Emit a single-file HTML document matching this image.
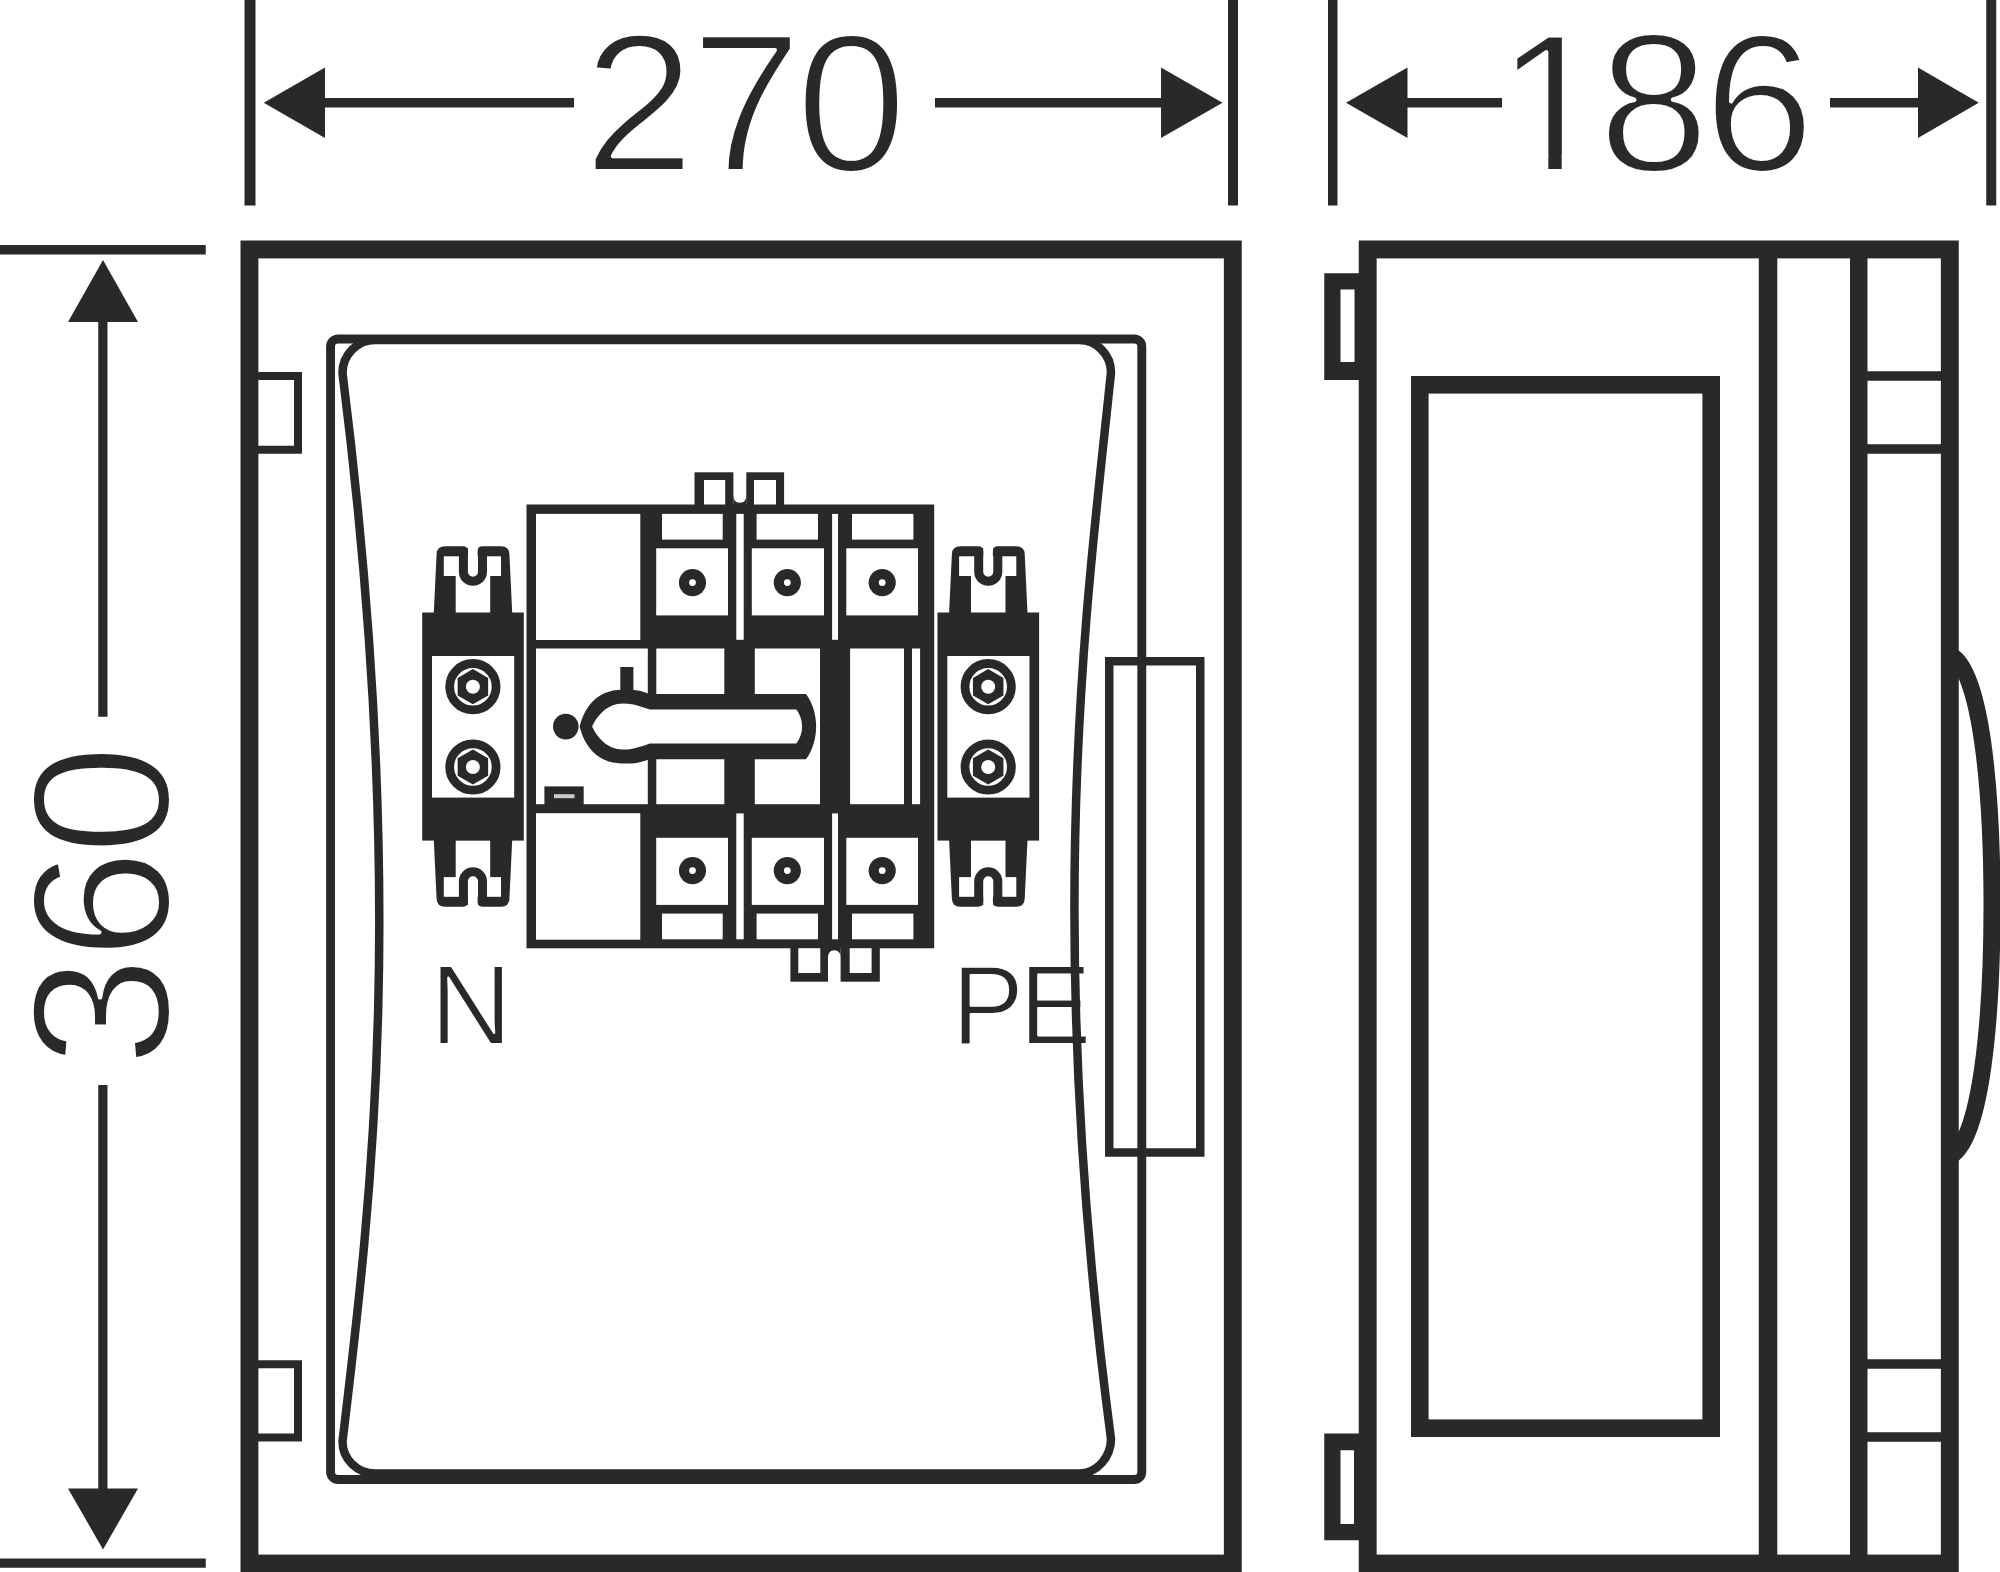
<!DOCTYPE html>
<html lang="en"><head><meta charset="utf-8"><title>Dimension drawing</title>
<style>
html,body{margin:0;padding:0;background:#fff;}
body{width:2000px;height:1572px;overflow:hidden;font-family:"Liberation Sans",Arial,sans-serif;}
svg{display:block}
</style></head><body>
<svg width="2000" height="1572" viewBox="0 0 2000 1572">
<rect x="0" y="0" width="2000" height="1572" fill="#fff"/>
<g id="dims">
<rect x="244.50" y="-2.00" width="11.00" height="207.50" fill="#2a2829" />
<rect x="1228.00" y="-2.00" width="10.00" height="207.50" fill="#2a2829" />
<rect x="1328.00" y="-2.00" width="9.50" height="207.50" fill="#2a2829" />
<rect x="1986.25" y="-2.00" width="10.00" height="207.50" fill="#2a2829" />
<rect x="324.00" y="98.00" width="250.00" height="9.50" fill="#2a2829" />
<rect x="935.00" y="98.00" width="227.00" height="9.50" fill="#2a2829" />
<polygon points="263.75,102.75 325.00,67.50 325.00,138.00" fill="#2a2829"/>
<polygon points="1222.50,102.75 1161.00,67.50 1161.00,138.00" fill="#2a2829"/>
<rect x="1406.00" y="98.00" width="96.00" height="9.50" fill="#2a2829" />
<rect x="1830.00" y="98.00" width="89.00" height="9.50" fill="#2a2829" />
<polygon points="1346.00,102.75 1407.50,67.50 1407.50,138.00" fill="#2a2829"/>
<polygon points="1978.75,102.75 1918.00,67.50 1918.00,138.00" fill="#2a2829"/>
<rect x="-2.00" y="245.00" width="207.75" height="9.50" fill="#2a2829" />
<rect x="-2.00" y="1558.50" width="207.75" height="9.25" fill="#2a2829" />
<rect x="98.25" y="321.00" width="9.25" height="395.75" fill="#2a2829" />
<rect x="98.25" y="1085.00" width="9.25" height="404.50" fill="#2a2829" />
<polygon points="103.00,260.00 68.00,322.00 138.00,322.00" fill="#2a2829"/>
<polygon points="103.00,1549.50 68.00,1488.50 138.00,1488.50" fill="#2a2829"/>
</g>
<g id="labels" font-family="'Liberation Sans', sans-serif" fill="#2a2829" stroke="#fff" stroke-linejoin="round">
<text transform="scale(1.02,1)" x="572.16 677.21 780.15" y="171" font-size="196" stroke-width="4">270</text>
<text transform="scale(1.02,1)" x="1466.67 1566.91 1670.20" y="171" font-size="196" stroke-width="4">186</text>
<text transform="translate(169,0) rotate(-90) scale(1.02,1)" x="-1046.32 -941.18 -838.48" y="0" font-size="196" stroke-width="4">360</text>
<text x="430" y="1044" font-size="114" stroke-width="2.2">N</text>
<text transform="scale(0.95,1)" x="1001.89 1072.95" y="1044" font-size="114" stroke-width="2.2">PE</text>
</g>
<rect x="1504.00" y="155.00" width="44.30" height="21.00" fill="#fff" />
<rect x="1561.70" y="155.00" width="39.30" height="21.00" fill="#fff" />
<g id="front">
<rect x="249.45" y="249.45" width="983.35" height="1314.10" rx="0" fill="none" stroke="#2a2829" stroke-width="17.9" />
<rect x="253.00" y="376.00" width="45.00" height="73.75" rx="0" fill="none" stroke="#2a2829" stroke-width="8" />
<rect x="253.00" y="1364.25" width="45.00" height="73.25" rx="0" fill="none" stroke="#2a2829" stroke-width="8" />
<rect x="330.55" y="339.05" width="811.25" height="1140.50" rx="7.5" fill="none" stroke="#2a2829" stroke-width="8.9" />
<path d="M375,340 C357,340 342.5,355 342.5,373 C408.7,899.6 371,1203.5 342.5,1441.5 C342.5,1459 357,1473.5 375,1473.5 L1079,1473.5 C1097,1473.5 1111,1457 1111,1439 C1042,915.3 1087.45,600 1111,372.5 C1111,355 1097,340 1079,340 Z" fill="none" stroke="#2a2829" stroke-width="8.5" />
<rect x="1109.25" y="661.25" width="91.00" height="491.25" rx="0" fill="none" stroke="#2a2829" stroke-width="8.5" />
</g>
<g id="side">
<rect x="1367.70" y="249.45" width="582.10" height="1314.10" rx="0" fill="none" stroke="#2a2829" stroke-width="17.9" />
<rect x="1758.75" y="249.00" width="18.55" height="1315.00" fill="#2a2829" />
<rect x="1850.00" y="249.00" width="17.50" height="1315.00" fill="#2a2829" />
<rect x="1866.00" y="371.25" width="77.00" height="9.50" fill="#2a2829" />
<rect x="1866.00" y="444.25" width="77.00" height="9.50" fill="#2a2829" />
<rect x="1866.00" y="1359.25" width="77.00" height="9.50" fill="#2a2829" />
<rect x="1866.00" y="1432.25" width="77.00" height="9.50" fill="#2a2829" />
<rect x="1419.80" y="384.80" width="291.40" height="1043.40" rx="0" fill="none" stroke="#2a2829" stroke-width="17.6" />
<rect x="1324.25" y="273.25" width="35.75" height="106.75" fill="#2a2829" />
<rect x="1340.50" y="289.50" width="14.00" height="72.50" fill="#fff" />
<rect x="1324.25" y="1433.50" width="35.75" height="106.75" fill="#2a2829" />
<rect x="1340.50" y="1450.25" width="13.50" height="73.75" fill="#fff" />
<path d="M1950,655 C1981,668 1992,790 1992,905 C1992,1020 1981,1142 1950,1156" fill="none" stroke="#2a2829" stroke-width="17" />
</g>
<g id="switch">
<rect x="526.50" y="504.50" width="407.70" height="443.80" fill="#2a2829" />
<rect x="694.50" y="472.30" width="38.90" height="33.70" fill="#2a2829" />
<rect x="704.00" y="480.00" width="21.20" height="24.50" fill="#fff" />
<rect x="746.30" y="472.30" width="37.80" height="33.70" fill="#2a2829" />
<rect x="754.00" y="480.00" width="22.00" height="24.50" fill="#fff" />
<path d="M733.4,495 Q733.4,502.8 739.85,502.8 Q746.3,502.8 746.3,495 L746.3,506 L733.4,506 Z" fill="#2a2829" />
<rect x="790.40" y="946.00" width="37.60" height="35.70" fill="#2a2829" />
<rect x="798.30" y="948.20" width="22.00" height="24.80" fill="#fff" />
<rect x="840.60" y="946.00" width="39.20" height="35.70" fill="#2a2829" />
<rect x="849.70" y="948.20" width="21.90" height="24.80" fill="#fff" />
<path d="M828,958 Q828,950.3 834.3,950.3 Q840.6,950.3 840.6,958 L840.6,946 L828,946 Z" fill="#2a2829" />
<rect x="536.00" y="513.90" width="104.30" height="126.10" fill="#fff" />
<rect x="536.00" y="648.50" width="111.80" height="155.70" fill="#fff" />
<rect x="536.00" y="813.20" width="104.30" height="126.50" fill="#fff" />
<rect x="656.30" y="648.50" width="68.00" height="155.70" fill="#fff" />
<rect x="754.80" y="648.50" width="65.20" height="155.70" fill="#fff" />
<rect x="850.10" y="648.50" width="53.90" height="155.70" fill="#fff" />
<rect x="912.00" y="648.50" width="8.10" height="155.70" fill="#fff" />
<rect x="662.00" y="513.90" width="60.70" height="25.70" fill="#fff" />
<rect x="662.00" y="913.60" width="60.70" height="25.70" fill="#fff" />
<rect x="756.60" y="513.90" width="61.40" height="25.70" fill="#fff" />
<rect x="756.60" y="913.60" width="61.40" height="25.70" fill="#fff" />
<rect x="852.00" y="513.90" width="61.40" height="25.70" fill="#fff" />
<rect x="852.00" y="913.60" width="61.40" height="25.70" fill="#fff" />
<rect x="656.20" y="548.30" width="71.80" height="67.10" fill="#fff" />
<rect x="656.20" y="837.80" width="71.80" height="67.10" fill="#fff" />
<rect x="751.80" y="548.30" width="72.20" height="67.10" fill="#fff" />
<rect x="751.80" y="837.80" width="72.20" height="67.10" fill="#fff" />
<rect x="846.30" y="548.30" width="71.70" height="67.10" fill="#fff" />
<rect x="846.30" y="837.80" width="71.70" height="67.10" fill="#fff" />
<rect x="736.30" y="513.90" width="7.40" height="125.90" fill="#fff" />
<rect x="736.30" y="813.40" width="7.40" height="125.90" fill="#fff" />
<rect x="832.10" y="513.90" width="5.90" height="125.90" fill="#fff" />
<rect x="832.10" y="813.40" width="5.90" height="125.90" fill="#fff" />
<circle cx="692.5" cy="582.60" r="13.6" fill="#2a2829"/><circle cx="692.5" cy="582.60" r="3.4" fill="#fff"/>
<circle cx="692.5" cy="870.60" r="13.6" fill="#2a2829"/><circle cx="692.5" cy="870.60" r="3.4" fill="#fff"/>
<circle cx="787.3" cy="582.60" r="13.6" fill="#2a2829"/><circle cx="787.3" cy="582.60" r="3.4" fill="#fff"/>
<circle cx="787.3" cy="870.60" r="13.6" fill="#2a2829"/><circle cx="787.3" cy="870.60" r="3.4" fill="#fff"/>
<circle cx="882.2" cy="582.60" r="13.6" fill="#2a2829"/><circle cx="882.2" cy="582.60" r="3.4" fill="#fff"/>
<circle cx="882.2" cy="870.60" r="13.6" fill="#2a2829"/><circle cx="882.2" cy="870.60" r="3.4" fill="#fff"/>
<rect x="544.40" y="786.40" width="39.30" height="18.60" fill="#2a2829" />
<rect x="554.00" y="794.20" width="20.50" height="4.00" fill="#c9c9c9" />
<circle cx="565.8" cy="726.6" r="12.8" fill="#2a2829"/>
<rect x="620.30" y="667.00" width="13.10" height="28.00" fill="#2a2829" />
<path d="M579.7,726.6 C583.8,709.1 596,689.8 622,689.8 L632,689.8 C638,689.8 643,692 650,694 L806,694 C819.5,712 819.5,741 806,759.2 L650,759.2 C643,761.2 638,763.4000000000001 632,763.4000000000001 L622,763.4000000000001 C596,763.4000000000001 583.8,744.1 579.7,726.6 Z" fill="#2a2829" />
<path d="M592.1,726.6 C597.3,715.8 607,703.6 623,703.6 L628,703.8 C636,704.5 642,707 650,709.6 L796.4,709.6 C804,720 804,733 796.4,743.6 L650,743.6 C642,746.2 636,748.7 628,749.4000000000001 L623,749.6 C607,749.6 597.3,737.4000000000001 592.1,726.6 Z" fill="#fff" />
</g>
<g transform="translate(0,0)">
<path d="M433.8,613 L436.6,554 Q437,546.3 445,546.3 L463,546.3 Q467.9,546.3 467.9,551.5 L467.9,571.5 A4.85,4.85 0 0 0 477.6,571.5 L477.6,551.5 Q477.6,546.3 482.5,546.3 L501,546.3 Q509,546.3 509.4,554 L512.2,613 Z" fill="#2a2829" />
<rect x="443.80" y="556.30" width="57.20" height="19.70" fill="#fff" />
<rect x="455.70" y="575.00" width="34.50" height="38.00" fill="#fff" />
<path d="M463.4,548 L463.4,571.75 A9.55,9.55 0 0 0 482.5,571.75 L482.5,548" fill="none" stroke="#2a2829" stroke-width="9" />
<g transform="translate(0,1453.10) scale(1,-1)">
<path d="M433.8,613 L436.6,554 Q437,546.3 445,546.3 L463,546.3 Q467.9,546.3 467.9,551.5 L467.9,571.5 A4.85,4.85 0 0 0 477.6,571.5 L477.6,551.5 Q477.6,546.3 482.5,546.3 L501,546.3 Q509,546.3 509.4,554 L512.2,613 Z" fill="#2a2829" />
<rect x="443.80" y="556.30" width="57.20" height="19.70" fill="#fff" />
<rect x="455.70" y="575.00" width="34.50" height="38.00" fill="#fff" />
<path d="M463.4,548 L463.4,571.75 A9.55,9.55 0 0 0 482.5,571.75 L482.5,548" fill="none" stroke="#2a2829" stroke-width="9" />
</g>
<rect x="422.20" y="612.50" width="101.60" height="228.10" fill="#2a2829" />
<rect x="432.00" y="656.00" width="82.20" height="141.60" fill="#fff" />
<circle cx="472.9" cy="686.7" r="23.2" fill="none" stroke="#2a2829" stroke-width="8.8"/>
<polygon points="472.90,669.10 488.14,677.90 488.14,695.50 472.90,704.30 457.66,695.50 457.66,677.90" fill="#2a2829"/>
<circle cx="472.9" cy="686.7" r="7" fill="#fff"/>
<circle cx="472.9" cy="767" r="23.2" fill="none" stroke="#2a2829" stroke-width="8.8"/>
<polygon points="472.90,749.40 488.14,758.20 488.14,775.80 472.90,784.60 457.66,775.80 457.66,758.20" fill="#2a2829"/>
<circle cx="472.9" cy="767" r="7" fill="#fff"/>
</g>
<g transform="translate(515.3,0)">
<path d="M433.8,613 L436.6,554 Q437,546.3 445,546.3 L463,546.3 Q467.9,546.3 467.9,551.5 L467.9,571.5 A4.85,4.85 0 0 0 477.6,571.5 L477.6,551.5 Q477.6,546.3 482.5,546.3 L501,546.3 Q509,546.3 509.4,554 L512.2,613 Z" fill="#2a2829" />
<rect x="443.80" y="556.30" width="57.20" height="19.70" fill="#fff" />
<rect x="455.70" y="575.00" width="34.50" height="38.00" fill="#fff" />
<path d="M463.4,548 L463.4,571.75 A9.55,9.55 0 0 0 482.5,571.75 L482.5,548" fill="none" stroke="#2a2829" stroke-width="9" />
<g transform="translate(0,1453.10) scale(1,-1)">
<path d="M433.8,613 L436.6,554 Q437,546.3 445,546.3 L463,546.3 Q467.9,546.3 467.9,551.5 L467.9,571.5 A4.85,4.85 0 0 0 477.6,571.5 L477.6,551.5 Q477.6,546.3 482.5,546.3 L501,546.3 Q509,546.3 509.4,554 L512.2,613 Z" fill="#2a2829" />
<rect x="443.80" y="556.30" width="57.20" height="19.70" fill="#fff" />
<rect x="455.70" y="575.00" width="34.50" height="38.00" fill="#fff" />
<path d="M463.4,548 L463.4,571.75 A9.55,9.55 0 0 0 482.5,571.75 L482.5,548" fill="none" stroke="#2a2829" stroke-width="9" />
</g>
<rect x="422.20" y="612.50" width="101.60" height="228.10" fill="#2a2829" />
<rect x="432.00" y="656.00" width="82.20" height="141.60" fill="#fff" />
<circle cx="472.9" cy="686.7" r="23.2" fill="none" stroke="#2a2829" stroke-width="8.8"/>
<polygon points="472.90,669.10 488.14,677.90 488.14,695.50 472.90,704.30 457.66,695.50 457.66,677.90" fill="#2a2829"/>
<circle cx="472.9" cy="686.7" r="7" fill="#fff"/>
<circle cx="472.9" cy="767" r="23.2" fill="none" stroke="#2a2829" stroke-width="8.8"/>
<polygon points="472.90,749.40 488.14,758.20 488.14,775.80 472.90,784.60 457.66,775.80 457.66,758.20" fill="#2a2829"/>
<circle cx="472.9" cy="767" r="7" fill="#fff"/>
</g>
</svg>
</body></html>
